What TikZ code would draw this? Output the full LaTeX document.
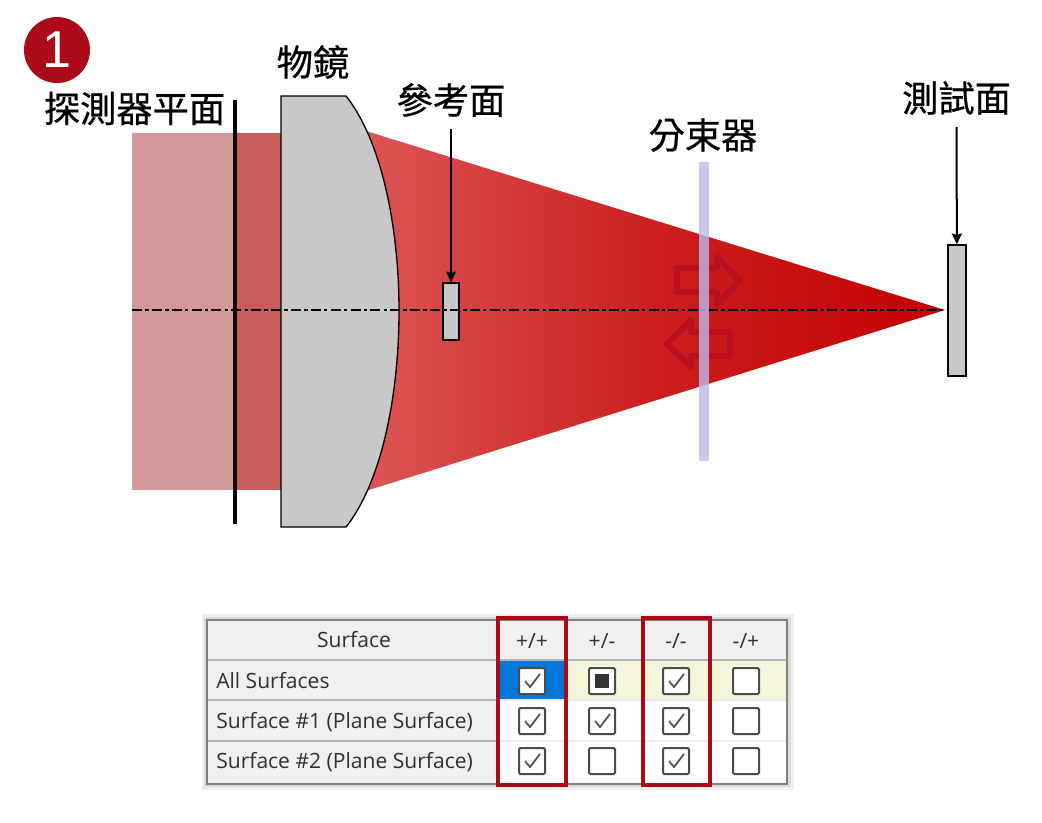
\documentclass[tikz,border=0pt]{standalone}
\usepackage{fontspec}
\setmainfont{Open Sans}
\newfontfamily\cjk[FakeBold=0.6]{Noto Sans CJK TC}
\newfontfamily\digitfont{Liberation Sans}
\usetikzlibrary{arrows.meta,calc}

\definecolor{markred}{HTML}{AD0A19}
\definecolor{arrowred}{HTML}{B81020}
\definecolor{lensgray}{HTML}{C8C8C8}
\definecolor{splitblue}{HTML}{BABAEB}
\definecolor{gridgray}{HTML}{B4B4B4}
\definecolor{headgray}{HTML}{F0F0F0}
\definecolor{rowbeige}{HTML}{F5F5DC}
\definecolor{cellblue}{HTML}{0078D7}
\definecolor{textgray}{HTML}{303030}
\definecolor{beamleft}{HTML}{DD5A5A}
\definecolor{beammid}{HTML}{CC2020}
\definecolor{beamright}{HTML}{C40000}
\definecolor{washlight}{HTML}{D49898}
\definecolor{washdark}{HTML}{CC5C5C}

\tikzset{
    cjklabel/.style={font=\cjk\fontsize{27.2}{30}\selectfont, inner sep=2pt},
    pointer/.style={-{Stealth[length=8pt,width=7.5pt,inset=1pt]}, line width=1.5pt, shorten <=7pt},
    plate/.style={draw=black, line width=1.4pt, fill=lensgray, inner sep=0pt},
    hollowarrow/.style={draw=arrowred, line width=4.4pt, line join=round},
    tabletext/.style={font=\fontsize{15.8}{18}\selectfont, text=textgray, inner sep=0pt},
    tickbox/.style={draw=black!70, line width=1.5pt, fill=white, rounded corners=1pt, minimum size=19.5pt, inner sep=0pt},
    tick/.style={draw=black!65, line width=1.4pt},
    redframe/.style={draw=markred, line width=2.3pt},
    gridline/.style={draw=gridgray, line width=1.5pt}
}

\begin{document}
\begin{tikzpicture}[x=0.75pt,y=-0.75pt]
    \useasboundingbox (0,0) rectangle (1042,822);

    % beam
    \shade[left color=beamleft, right color=beamright, middle color=beammid] (340,123) -- (945,310) -- (340,499) -- cycle;
    \fill[washlight] (132,133) rectangle (235,490);
    \fill[washdark] (235,133) rectangle (300,490);

    % lens
    \filldraw[draw=black, line width=1pt, fill=lensgray] (281,96) -- (346,96) .. controls (381,140) and (399,225) .. (399,311) .. controls (399,397) and (381,483) .. (346,527) -- (281,527) -- cycle;

    % detector, plates
    \draw[line width=2.6pt] (235,100) -- (235,524);
    \node[plate, minimum width=12pt, minimum height=42.5pt] at (451,311.5) (refplate) {};
    \node[plate, minimum width=13.5pt, minimum height=98pt] at (957,310.5) (testplate) {};

    % axis
    \draw[line width=1.5pt, dash pattern=on 7.5pt off 2.4pt on 2.6pt off 2.4pt] (132,310) -- (testplate.west |- 0,310);

    % arrows and beam splitter
    \draw[hollowarrow] (677,268) -- (717,268) -- (717,257) -- (740,281) -- (717,304) -- (717,292) -- (677,292) -- cycle;
    \draw[hollowarrow] (730,332) -- (691,332) -- (691,320) -- (667,344) -- (691,367) -- (691,356) -- (730,356) -- cycle;
    \fill[splitblue, opacity=0.8] (699,162) rectangle (709,461);

    % labels
    \node[circle, fill=markred, minimum size=49.5pt, inner sep=0pt, text=white, font=\digitfont\fontsize{39}{39}\selectfont] at (57,50) (mark1) {1};
    \node[cjklabel] at (134.5,108.5) (detlabel) {探測器平面};
    \node[cjklabel] at (313,62) (lenslabel) {物鏡};
    \node[cjklabel] at (451,100) (reflabel) {參考面};
    \node[cjklabel] at (703,135) (splitlabel) {分束器};
    \node[cjklabel] at (956.5,98) (testlabel) {測試面};

    \draw[pointer] (reflabel) -- (refplate);
    \draw[pointer] (testlabel) -- (testplate);

    % table
    \fill[black!6] (202,614) rectangle (794,790);
    \fill[black!14] (204,617) rectangle (791,787);
    \fill[white] (207,620) rectangle (787,784);
    \fill[headgray] (207,620) rectangle (787,660);
    \fill[headgray] (207,660) rectangle (498,784);
    \fill[rowbeige] (566,660) rectangle (787,700);
    \fill[cellblue] (498,660) rectangle (566,700);
    \draw[gridline] (207,660) -- (787,660);
    \draw[gridline] (207,700) -- (498,700);
    \draw[draw=black!8, line width=1pt] (498,700) -- (787,700);
    \draw[gridline] (207,741) -- (498,741);
    \draw[draw=black!6, line width=1pt] (498,741) -- (787,741);
    \draw[gridline] (498,620) -- (498,784);
    \draw[draw=white, line width=1pt] (566,622) -- (566,659);
    \draw[draw=white, line width=1pt] (642,622) -- (642,659);
    \draw[draw=white, line width=1pt] (710,622) -- (710,659);
    \draw[draw=black!50, line width=2.2pt] (207,620) rectangle (787,784);

    \node[tabletext] at (354,640) (surfhead) {Surface};
    \node[tabletext] at (532,641) (headA) {+/+};
    \node[tabletext] at (602,641) (headB) {+/-};
    \node[tabletext] at (676,641) (headC) {-/-};
    \node[tabletext] at (746,641) (headD) {-/+};
    \node[tabletext, anchor=west] at (216,680.5) (rowall) {All Surfaces};
    \node[tabletext, anchor=west] at (216,722) (rowone) {Surface \#1 (Plane Surface)};
    \node[tabletext, anchor=west] at (216,762) (rowtwo) {Surface \#2 (Plane Surface)};

    \foreach \n/\x/\y in {a1/532/681,c1/676/681,a2/532/721,b2/602/721,c2/676/721,a3/532/761,c3/676/761} {
        \node[tickbox] at (\x,\y) (box\n) {};
        \draw[tick] ($(box\n.center)+(-7,0)$) -- ($(box\n.center)+(-2,6)$) -- ($(box\n.center)+(8,-7)$);
    }
    \foreach \n/\x/\y in {d1/746/681,d2/746/721,b3/602/761,d3/746/761} {
        \node[tickbox] at (\x,\y) (box\n) {};
    }
    \node[tickbox] at (602,681) (boxb1) {};
    \fill[black!80] (595,674) rectangle (609,688);

    \draw[redframe] (498,618) rectangle (566,785);
    \draw[redframe] (643,618) rectangle (710,785);
\end{tikzpicture}
\end{document}
